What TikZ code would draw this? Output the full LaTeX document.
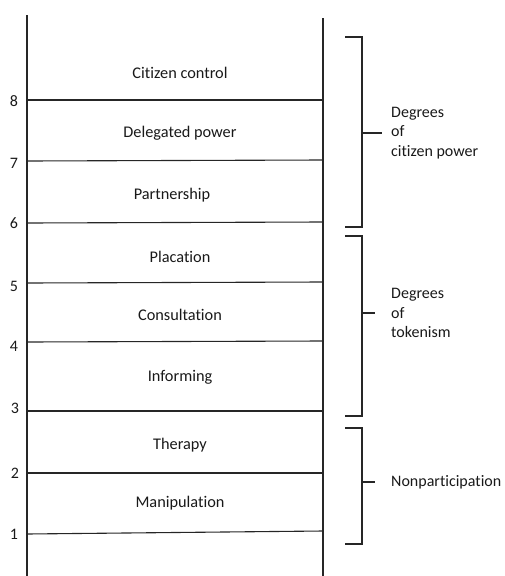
\documentclass[tikz,border=0pt]{standalone}
\usepackage{fontspec}
\setmainfont{Carlito}[Ligatures=NoCommon]
\begin{document}
\begin{tikzpicture}[x=1pt,y=-1pt,
  rail/.style={line width=1.1pt,draw=black!85},
  rung/.style={line width=1.1pt,draw=black!85},
  brk/.style={line width=1.1pt,draw=black!85},
  lbl/.style={font=\fontsize{16.3}{19}\selectfont,inner sep=0pt,text=black!90},
  num/.style={font=\fontsize{16}{19}\selectfont,inner sep=0pt,text=black!90},
  grp/.style={font=\fontsize{16}{19.5}\selectfont,inner sep=0pt,align=left,anchor=west,text=black!90}]
\useasboundingbox (0,0) rectangle (504,576);
% rails
\coordinate (LT) at (27,15); \coordinate (LB) at (27,576);
\coordinate (RT) at (323,18); \coordinate (RB) at (323,576);
\draw[rail] (LT) -- (LB);
\draw[rail] (RT) -- (RB);
% rungs
\foreach \n/\yl/\yr in {8/100/100,7/161/160,6/223/222,5/283/282,4/342/341,3/411/411,2/473/473,1/534/531}{
  \coordinate (l\n) at (27,\yl); \coordinate (r\n) at (323,\yr);
  \draw[rung] (l\n) -- (r\n);
}
% numbers
\node[num] (n8) at (14,101) {8};
\node[num] (n7) at (14,163) {7};
\node[num] (n6) at (14,223) {6};
\node[num] (n5) at (14,286) {5};
\node[num] (n4) at (14,346) {4};
\node[num] (n3) at (15,408) {3};
\node[num] (n2) at (15,473) {2};
\node[num] (n1) at (14,534) {1};
% rung labels
\node[lbl] (s8) at (180,73) {Citizen control};
\node[lbl] (s7) at (180,133) {Delegated power};
\node[lbl] (s6) at (172,195) {Partnership};
\node[lbl] (s5) at (180,257) {Placation};
\node[lbl] (s4) at (180,315) {Consultation};
\node[lbl] (s3) at (180,377) {Informing};
\node[lbl] (s2) at (180,445) {Therapy};
\node[lbl] (s1) at (180,503) {Manipulation};
% brackets
\coordinate (b1t) at (345,37); \coordinate (b1b) at (345,227);
\coordinate (b1m) at (362,133); \coordinate (b1e) at (382,133);
\draw[brk] (b1t) -| (b1m) |- (b1b);
\draw[brk] (b1m) -- (b1e);
\coordinate (b2t) at (345,236); \coordinate (b2b) at (345,416);
\coordinate (b2m) at (362,313); \coordinate (b2e) at (375,313);
\draw[brk] (b2t) -| (b2m) |- (b2b);
\draw[brk] (b2m) -- (b2e);
\coordinate (b3t) at (345,428); \coordinate (b3b) at (345,544);
\coordinate (b3m) at (362,482); \coordinate (b3e) at (375,482);
\draw[brk] (b3t) -| (b3m) |- (b3b);
\draw[brk] (b3m) -- (b3e);
% group labels
\node[grp] (g1) at (391,133) {Degrees\\of\\citizen power};
\node[grp] (g2) at (391,313) {Degrees\\of\\tokenism};
\node[grp] (g3) at (391,482) {Nonparticipation};
\end{tikzpicture}
\end{document}
